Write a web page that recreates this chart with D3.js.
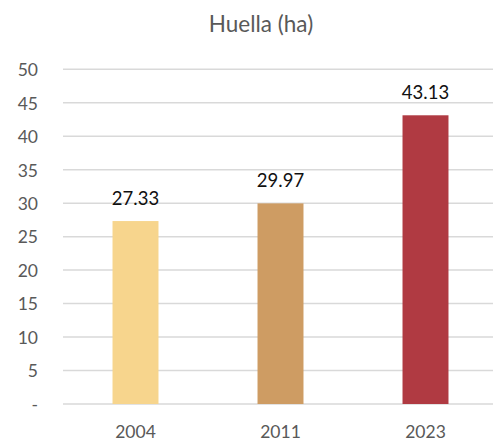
<!DOCTYPE html>
<html>
<head>
<meta charset="utf-8">
<script src="https://cdn.jsdelivr.net/npm/d3@7"></script>
<style>
  html, body { margin: 0; padding: 0; background: #fff; }
  svg { display: block; font-family: Lato, "Open Sans", sans-serif; }
</style>
</head>
<body>
<svg id="chart" width="493" height="441"></svg>
<script>
// Chart data
const years = ["2004", "2011", "2023"];
const hectares = [27.33, 29.97, 43.13];
const barColors = ["#F7D58D", "#CE9C63", "#B03A42"];
const yTicks = [0, 5, 10, 15, 20, 25, 30, 35, 40, 45, 50];
const chartTitle = "Huella (ha)";

const svg = d3.select("#chart");
const W = 493, H = 441;
const plot = { left: 63, right: 498, top: 69.3, bottom: 404 };

const x = d3.scaleBand()
  .domain(years)
  .range([plot.left, plot.right])
  .paddingInner(0.683)
  .paddingOuter(0.3415);

const y = d3.scaleLinear()
  .domain([0, 50])
  .range([plot.bottom, plot.top]);

// Title
svg.append("text")
  .attr("x", 261)
  .attr("y", 32)
  .attr("text-anchor", "middle")
  .attr("fill", "#595959")
  .style("font-size", "22.5px")
  .text(chartTitle);

// Gridlines
svg.append("g")
  .selectAll("line")
  .data(yTicks)
  .join("line")
  .attr("x1", plot.left)
  .attr("x2", W)
  .attr("y1", d => y(d))
  .attr("y2", d => y(d))
  .attr("stroke", "#D9D9D9")
  .attr("stroke-width", 1.5);

// Y axis labels
const yAxis = d3.axisLeft(y)
  .tickValues(yTicks)
  .tickSize(0)
  .tickPadding(0)
  .tickFormat(d => d === 0 ? "-" : d);
const yg = svg.append("g")
  .attr("transform", "translate(38,0)")
  .call(yAxis);
yg.select(".domain").remove();
yg.selectAll("text")
  .attr("fill", "#595959")
  .attr("dy", "0.36em")
  .style("font-size", "17.5px")
  .style("font-family", "Lato, 'Open Sans', sans-serif");

// Bars
svg.append("g")
  .selectAll("rect")
  .data(years)
  .join("rect")
  .attr("x", d => x(d))
  .attr("width", x.bandwidth())
  .attr("y", (d, i) => y(hectares[i]))
  .attr("height", (d, i) => y(0) - y(hectares[i]))
  .attr("fill", (d, i) => barColors[i]);

// Value labels
svg.append("g")
  .selectAll("text")
  .data(years)
  .join("text")
  .attr("x", d => x(d) + x.bandwidth() / 2)
  .attr("y", (d, i) => y(hectares[i]) - 16.5)
  .attr("text-anchor", "middle")
  .attr("fill", "#111")
  .style("font-size", "18.5px")
  .text((d, i) => hectares[i].toFixed(2));

// X axis labels
const xAxis = d3.axisBottom(x).tickSize(0).tickPadding(0);
const xg = svg.append("g")
  .attr("transform", "translate(0,438)")
  .call(xAxis);
xg.select(".domain").remove();
xg.selectAll("text")
  .attr("dy", 0)
  .attr("fill", "#595959")
  .style("font-size", "17.5px")
  .style("font-family", "Lato, 'Open Sans', sans-serif");
</script>
</body>
</html>
